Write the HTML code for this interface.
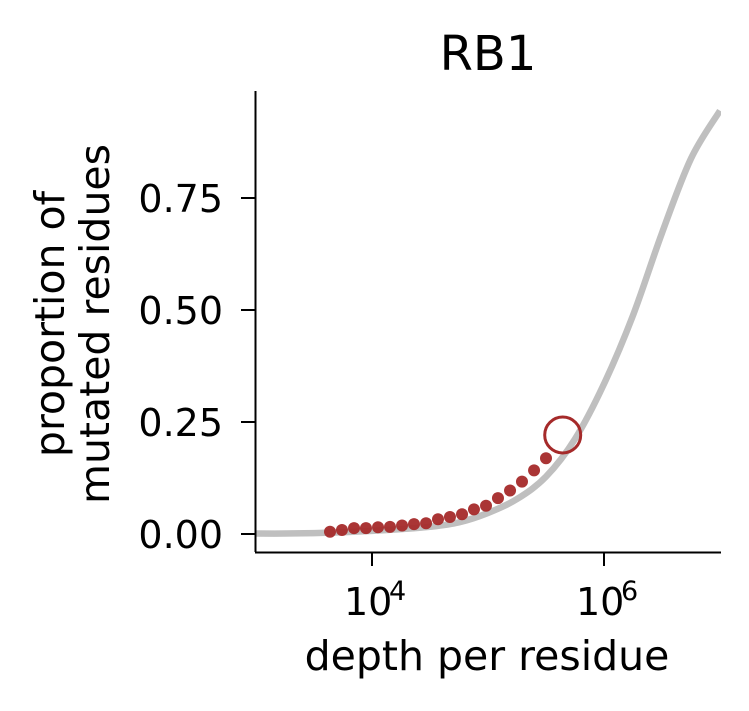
<!DOCTYPE html>
<html><head><meta charset="utf-8"><style>
html,body{margin:0;padding:0;background:#fff;}
svg{display:block;font-family:"DejaVu Sans","Liberation Sans",sans-serif;}
</style></head><body>
<svg id="chart" width="749" height="711" viewBox="0 0 749 711" xmlns="http://www.w3.org/2000/svg">
<text x="488" y="70" font-size="48" text-anchor="middle">RB1</text>
<g id="plot"></g>
<line x1="255.5" y1="91" x2="255.5" y2="552" stroke="#000" stroke-width="2"/>
<line x1="255" y1="552.5" x2="721" y2="552.5" stroke="#000" stroke-width="2"/>
<g id="yticks"></g><g id="xticks"></g>
<text x="487" y="670" font-size="41" text-anchor="middle">depth per residue</text>
<g transform="translate(0,324) rotate(-90)">
<text x="0" y="0" font-size="41" text-anchor="middle"><tspan x="0" y="64">proportion of</tspan><tspan x="0" y="109">mutated residues</tspan></text>
</g>
</svg>
<script>
const curveLogX = [3.0,3.25,3.5,3.75,4.0,4.25,4.5,4.75,5.0,5.25,5.5,5.75,6.0,6.25,6.5,6.75,7.0];
const curveVals = [0.001,0.001,0.002,0.004,0.007,0.011,0.016,0.026,0.047,0.078,0.128,0.212,0.335,0.488,0.672,0.838,0.945];
const dotLogX = [3.638,3.741,3.845,3.948,4.052,4.155,4.259,4.362,4.466,4.569,4.672,4.776,4.879,4.983,5.086,5.190,5.293,5.397,5.500];
const dotVals = [0.005,0.009,0.013,0.013,0.015,0.016,0.019,0.022,0.024,0.033,0.038,0.044,0.055,0.063,0.080,0.097,0.117,0.142,0.169];
const markerLogX = 5.644;
const markerVal = 0.221;
const yTicks = [0, 0.25, 0.5, 0.75];
const yTickLabels = ["0.00","0.25","0.50","0.75"];
const xTicks = [4, 6];
const xTickExps = ["4","6"];

const NS = "http://www.w3.org/2000/svg";
const xs = l => 372 + (l - 4) * 116;
const ys = v => 534 - v * 448;
function mk(tag, attrs, parent){ const e = document.createElementNS(NS, tag); for (const k in attrs) e.setAttribute(k, attrs[k]); parent.appendChild(e); return e; }
const plot = document.getElementById('plot');

const pts = curveLogX.map((l,i)=>[xs(l), ys(curveVals[i])]);
let d = `M${pts[0][0]},${pts[0][1]}`;
for (let i=0;i<pts.length-1;i++){
  const p0=pts[Math.max(0,i-1)],p1=pts[i],p2=pts[i+1],p3=pts[Math.min(pts.length-1,i+2)];
  const c1=[p1[0]+(p2[0]-p0[0])/6,p1[1]+(p2[1]-p0[1])/6];
  const c2=[p2[0]-(p3[0]-p1[0])/6,p2[1]-(p3[1]-p1[1])/6];
  d += ` C${c1[0]},${c1[1]} ${c2[0]},${c2[1]} ${p2[0]},${p2[1]}`;
}
const clip = mk('clipPath',{id:'clp'},plot); mk('rect',{x:256,y:85,width:465,height:467},clip);
const curve = mk('path',{d:d,fill:'none',stroke:'#bfbfbf','stroke-width':6.5,'clip-path':'url(#clp)'},plot);



dotLogX.forEach((l,i)=>{
  const c = mk('circle',{cx:xs(l),cy:ys(dotVals[i]),r:6,fill:'#a52a2a','fill-opacity':0.95},plot);
  
  
});
const m = mk('circle',{cx:xs(markerLogX),cy:ys(markerVal),r:18,fill:'none',stroke:'#a52a2a','stroke-width':3},plot);



const yt = document.getElementById('yticks');
yTicks.forEach((v,i)=>{
  const ln = mk('line',{x1:241,x2:255,y1:ys(v),y2:ys(v),stroke:'#000','stroke-width':2},yt);
  
  
  const t = mk('text',{x:223,y:ys(v)+14,'font-size':38,'text-anchor':'end'},yt);
  t.textContent = yTickLabels[i];
  
  
});
const xt = document.getElementById('xticks');
xTicks.forEach((l,i)=>{
  const ln = mk('line',{x1:xs(l),x2:xs(l),y1:552,y2:566,stroke:'#000','stroke-width':2},xt);
  
  
  const t = mk('text',{x:xs(l)-28,y:615,'font-size':38,'text-anchor':'start'},xt);
  t.textContent = '10';
  
  
  const s = mk('text',{x:xs(l)+17,y:600,'font-size':27,'text-anchor':'start'},xt);
  s.textContent = xTickExps[i];
  
  
});
</script>
</body></html>
